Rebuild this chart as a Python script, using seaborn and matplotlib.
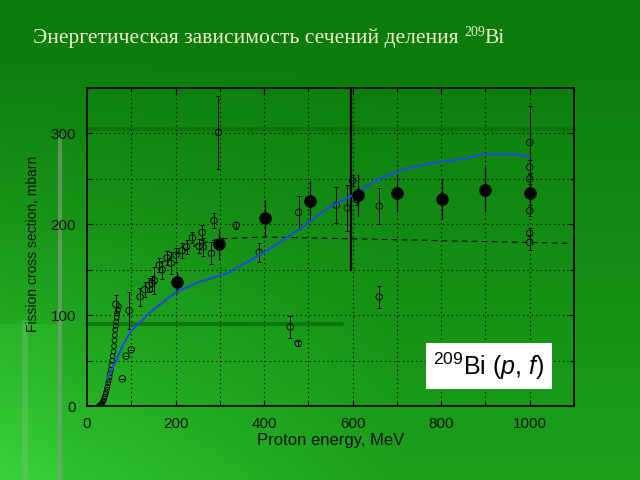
import numpy as np
import pandas as pd
import matplotlib
matplotlib.use('Agg')
import matplotlib.pyplot as plt
import seaborn as sns
from matplotlib.lines import Line2D
from matplotlib.ticker import MultipleLocator

# ---------------- data ----------------
curve_E = [45, 50, 66, 80, 100, 147, 200, 250, 321, 400, 475, 547, 608, 660, 713, 774, 850, 894, 970, 1000]
curve_s = [30, 34, 50, 66, 83, 105, 125, 136, 147, 169, 193, 219, 234, 250, 260, 267, 272, 277, 277, 274]

dash_E = [180, 200, 250, 300, 400, 500, 600, 700, 800, 900, 1000, 1090]
dash_s = [160, 167, 178, 184, 186, 185, 184, 183, 182, 181, 180, 179]

filled_E = [204, 299, 403, 504, 611, 701, 801, 900, 1000]
filled_s = [136, 178, 207, 226, 232, 234, 228, 238, 234]
filled_err = [12, 17, 20, 22, 23, 20, 22, 25, 20]

open_E = [65, 95, 120, 130, 140, 147, 152, 163, 170, 181, 190, 201, 215, 225, 238, 253, 260, 262,
          281, 287, 297, 337, 389, 459, 477, 478, 563, 588, 600, 610, 660, 660,
          1000, 1000, 1000, 1000, 1000, 1000, 80, 88, 100]
open_s = [112, 105, 120, 128, 133, 135, 138, 155, 150, 163, 157, 166, 171, 175, 185, 176, 191, 175,
          168, 204, 301, 199, 169, 87, 69, 213, 221, 218, 248, 227, 220, 120,
          290, 263, 250, 215, 190, 180, 30, 55, 62]
open_err = [10, 20, 10, 8, 8, 8, 15, 8, 10, 8, 12, 8, 8, 8, 6, 8, 8, 10,
            12, 8, 40, 4, 10, 12, 3, 18, 20, 25, 6, 6, 20, 12,
            40, 8, 6, 6, 6, 8, 0, 0, 0]

low_E = [27, 29, 31, 33, 34, 36, 37, 39, 40, 42, 43, 45, 46, 48, 49, 51, 52, 54, 55, 57, 58,
         60, 61, 62, 63, 64, 65, 66, 67, 68, 70, 72]
low_s = [0, 1, 1, 2, 3, 5, 6, 8, 10, 13, 15, 18, 21, 25, 28, 32, 36, 40, 45, 50, 55,
         60, 66, 72, 78, 84, 88, 93, 97, 102, 106, 110]

x_ticks = [0, 200, 400, 600, 800, 1000]
y_ticks = [0, 100, 200, 300]

title_text = 'Энергетическая зависимость сечений деления '
title_sup = '209'
title_end = 'Bi'
xlabel = 'Proton energy, MeV'
ylabel = 'Fission cross section, mbarn'
box_label = r'$^{209}$Bi ($p$, $f$)'

# ---------------- style ----------------
sns.set_theme(style='white')
plt.rcParams['font.family'] = ['Liberation Sans', 'DejaVu Sans']
plt.rcParams['mathtext.fontset'] = 'custom'
plt.rcParams['mathtext.rm'] = 'Liberation Sans'
plt.rcParams['mathtext.it'] = 'Liberation Sans:italic'

W, H = 640, 480
fig = plt.figure(figsize=(6.4, 4.8), dpi=100)

# background gradient (slide)
yy, xx = np.mgrid[0:H, 0:W]
yf = yy / (H - 1)
xf = xx / (W - 1)
top = np.array([10, 120, 10])
D = np.array([18, 40, 18])
E = np.array([22, 40, 22])
img = (top[None, None, :] + yf[..., None] * D[None, None, :]
       + ((yf ** 1.5) * np.clip(1 - 1.6 * xf, 0, 1))[..., None] * E[None, None, :])
mask1 = (xx < 58) & (yy > 323)
img[mask1] += np.array([6, 10, 6])
img = np.clip(img, 0, 255) / 255.0
bg = fig.add_axes([0, 0, 1, 1])
bg.imshow(img, aspect='auto', extent=[0, W, H, 0])
bg.set_xlim(0, W)
bg.set_ylim(H, 0)
bg.axis('off')
# slide artifacts
bg.add_line(Line2D([60, 60], [135, 480], color='#8aa08a', lw=3, alpha=0.6))
bg.add_line(Line2D([25, 25], [323, 480], color='#7fc07f', lw=4, alpha=0.4))
bg.add_line(Line2D([87, 572], [129, 129], color='#0b6e0b', lw=3, alpha=0.8))
bg.add_line(Line2D([87, 342], [324, 324], color='#0b700b', lw=3, alpha=0.8))

# ---------------- main axes ----------------
ax = fig.add_axes([87 / W, 1 - 406 / H, (574 - 87) / W, (406 - 88) / H])
ax.patch.set_alpha(0)
ax.set_xlim(0, 1100)
ax.set_ylim(0, 350)

# grid
for gx in range(100, 1100, 100):
    ax.axvline(gx, color='black', lw=0.8, ls=(0, (1, 3)), zorder=1)
for gy in range(50, 350, 50):
    ax.axhline(gy, color='black', lw=0.8, ls=(0, (1, 3)), zorder=1)

# artifact vertical bar
ax.axvline(597, ymin=150 / 350, ymax=1, color='black', lw=1.6, zorder=2)

# error bars
ax.errorbar(open_E, open_s, yerr=open_err, fmt='none', ecolor='black', elinewidth=0.7,
            capsize=1.5, capthick=0.7, zorder=3)
ax.errorbar(filled_E, filled_s, yerr=filled_err, fmt='none', ecolor='black', elinewidth=0.9,
            capsize=0, zorder=3)

df_open = pd.DataFrame({'E': open_E, 's': open_s})
sns.scatterplot(data=df_open, x='E', y='s', ax=ax, marker='o', s=22,
                facecolors='none', edgecolors='black', linewidth=0.6, zorder=4)
df_low = pd.DataFrame({'E': low_E, 's': low_s})
sns.scatterplot(data=df_low, x='E', y='s', ax=ax, marker='o', s=12,
                facecolors='none', edgecolors='black', linewidth=0.6, zorder=4)

df_dash = pd.DataFrame({'E': dash_E, 's': dash_s})
sns.lineplot(data=df_dash, x='E', y='s', ax=ax, color='black', lw=0.8, ls=(0, (5, 4)),
             sort=False, zorder=3)
df_curve = pd.DataFrame({'E': curve_E, 's': curve_s})
sns.lineplot(data=df_curve, x='E', y='s', ax=ax, color='#1f4fd1', lw=1.6, sort=False, zorder=5)

df_f = pd.DataFrame({'E': filled_E, 's': filled_s})
sns.scatterplot(data=df_f, x='E', y='s', ax=ax, marker='o', s=70, color='black',
                edgecolor='black', zorder=6)

# ticks & spines
ax.set_xticks(x_ticks)
ax.set_yticks(y_ticks)
ax.xaxis.set_minor_locator(MultipleLocator(100))
ax.yaxis.set_minor_locator(MultipleLocator(50))
ax.tick_params(axis='both', which='both', direction='in', top=True, right=True,
               bottom=True, left=True, color='black', width=0.8)
ax.tick_params(axis='both', which='major', length=4, labelsize=11, labelcolor='#151515')
ax.tick_params(axis='both', which='minor', length=3)
ax.tick_params(axis='x', pad=8)
ax.tick_params(axis='y', pad=8)
for sp in ax.spines.values():
    sp.set_color('black')
    sp.set_linewidth(1.2)
ax.set_xlabel('')
ax.set_ylabel('')

# label box
ax.text(0.825, 0.126, box_label, transform=ax.transAxes, ha='center', va='center',
        fontsize=18, color='black', zorder=10,
        bbox=dict(facecolor='white', edgecolor='none', boxstyle='square,pad=0.3'))

# axis titles
fig.text(331 / W, 1 - 440 / H, xlabel, ha='center', va='center', fontsize=12, color='#111111')
fig.text(33 / W, 1 - 244 / H, ylabel, ha='center', va='center', rotation=90,
         fontsize=10, color='#111111')

# title with superscript
tcol = '#eeeecc'
t1 = fig.text(33 / W, 1 - 43 / H, title_text, fontfamily='Liberation Serif', fontsize=15.5,
              color=tcol, va='baseline', ha='left')
fig.canvas.draw()
r = fig.canvas.get_renderer()
bb = t1.get_window_extent(r)
x2 = bb.x1
t2 = fig.text(x2 / W, (1 - 43 / H) + 7 / H, title_sup, fontfamily='Liberation Serif', fontsize=10,
              color=tcol, va='baseline', ha='left')
fig.canvas.draw()
bb2 = t2.get_window_extent(r)
fig.text(bb2.x1 / W, 1 - 43 / H, title_end, fontfamily='Liberation Serif', fontsize=15.5,
         color=tcol, va='baseline', ha='left')

fig.savefig('out.png', dpi=100)
